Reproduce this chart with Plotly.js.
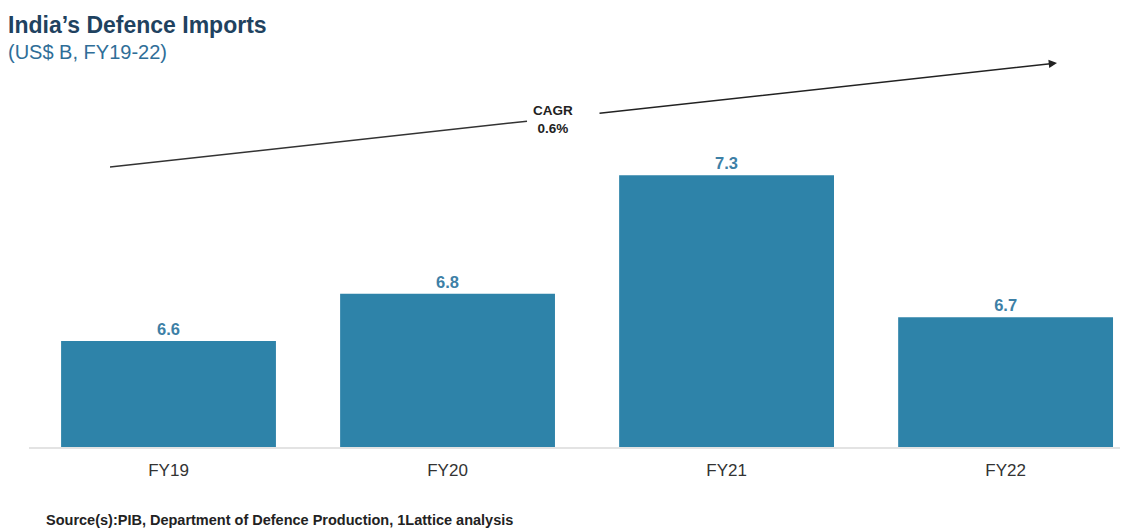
<!DOCTYPE html>
<html>
<head>
<meta charset="utf-8">
<script src="https://cdn.plot.ly/plotly-3.0.1.min.js"></script>
<style>html,body{margin:0;padding:0;background:#fff;}#chart{width:1128px;height:529px;}</style>
</head>
<body>
<div id="chart"></div>
<script>
const categories = ["FY19", "FY20", "FY21", "FY22"];
const imports = [6.6, 6.8, 7.3, 6.7];
const valueLabels = ["6.6", "6.8", "7.3", "6.7"];
const cagrText = "CAGR<br>0.6%";

const L = 29, R = 8, T = 60, B = 82, W = 1128, H = 529;
const pw = W - L - R, ph = H - T - B;
const px = x => (x - L) / pw;
const py = y => (H - B - y) / ph;

const trace = {
  type: "bar",
  x: categories,
  y: imports,
  text: valueLabels,
  textposition: "outside",
  cliponaxis: false,
  textfont: {family: "Liberation Sans, Arial, sans-serif", size: 16.5, color: "#3d80a6", weight: "bold"},
  marker: {color: "#2e83a9"},
  width: 0.77,
  hoverinfo: "x+y"
};

const layout = {
  width: W, height: H,
  margin: {l: L, r: R, t: T, b: B},
  paper_bgcolor: "#ffffff",
  plot_bgcolor: "#ffffff",
  showlegend: false,
  font: {family: "Liberation Sans, Arial, sans-serif", color: "#333"},
  xaxis: {
    type: "category",
    range: [-0.5, 3.41],
    showgrid: false,
    zeroline: false,
    showline: true,
    linecolor: "#e3e3e3",
    linewidth: 2,
    ticks: "",
    tickfont: {size: 17, color: "#333"},
    ticklabelstandoff: 7
  },
  yaxis: {
    range: [6.153, 7.786],
    visible: false,
    showgrid: false,
    zeroline: false
  },
  shapes: [
    {type: "line", xref: "paper", yref: "paper",
     x0: px(110), y0: py(167), x1: px(527), y1: py(121.2),
     line: {color: "#333", width: 1.5}}
  ],
  annotations: [
    {xref: "paper", yref: "paper", x: px(6), y: py(25), xanchor: "left", yanchor: "middle",
     text: "<b>India’s Defence Imports</b>", showarrow: false,
     font: {size: 23, color: "#1f4260", family: "Liberation Sans, Arial, sans-serif"}},
    {xref: "paper", yref: "paper", x: px(6), y: py(52), xanchor: "left", yanchor: "middle",
     text: "(US$ B, FY19-22)", showarrow: false,
     font: {size: 20, color: "#2f6e98", family: "Liberation Sans, Arial, sans-serif"}},
    {xref: "paper", yref: "paper", x: px(1057), y: py(63),
     axref: "pixel", ayref: "pixel", ax: 598 - 1057, ay: 113.4 - 63,
     showarrow: true, arrowhead: 2, arrowsize: 1.1, arrowwidth: 1.5, arrowcolor: "#222",
     text: ""},
    {xref: "paper", yref: "paper", x: px(553), y: py(119), xanchor: "center", yanchor: "middle",
     text: "<b>" + cagrText + "</b>", showarrow: false,
     font: {size: 13.5, color: "#222", family: "Liberation Sans, Arial, sans-serif"}},
    {xref: "paper", yref: "paper", x: px(44), y: py(520), xanchor: "left", yanchor: "middle",
     text: "<b>Source(s):PIB, Department of Defence Production, 1Lattice analysis</b>", showarrow: false,
     font: {size: 14.5, color: "#222", family: "Liberation Sans, Arial, sans-serif"}}
  ]
};

Plotly.newPlot("chart", [trace], layout, {displayModeBar: false, staticPlot: true});
</script>
</body>
</html>
